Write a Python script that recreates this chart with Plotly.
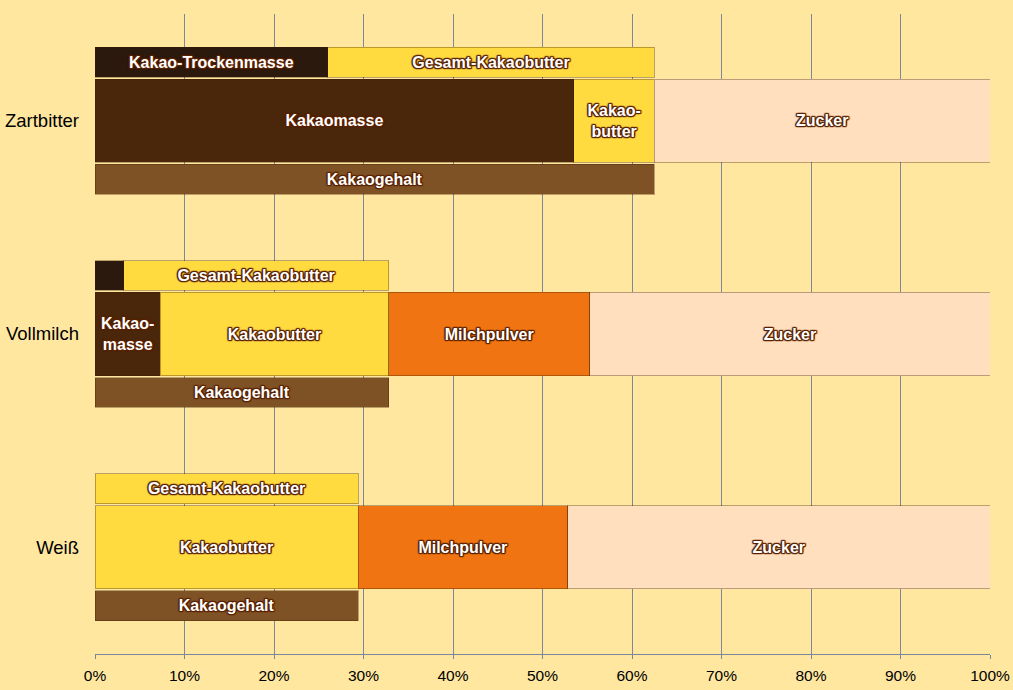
import plotly.graph_objects as go

# Data (percent of chocolate mass)
categories = ["Zartbitter", "Vollmilch", "Weiß"]
trockenmasse = [26.0, 3.2, 0]
gesamt_kakaobutter = [36.5, 29.6, 29.4]
kakaomasse = [53.5, 7.3, 0]
kakaobutter = [9.0, 25.5, 29.4]
milchpulver = [0, 22.5, 23.4]
zucker = [37.5, 44.7, 47.2]
kakaogehalt = [62.5, 32.8, 29.4]

trockenmasse_text = ["Kakao-Trockenmasse", "", ""]
kakaomasse_text = ["Kakaomasse", "Kakao-<br>masse", ""]
kakaobutter_text = ["Kakao-<br>butter", "Kakaobutter", "Kakaobutter"]

x_ticks = [0, 10, 20, 30, 40, 50, 60, 70, 80, 90, 100]
x_ticktext = ["0%", "10%", "20%", "30%", "40%", "50%", "60%", "70%", "80%", "90%", "100%"]

# row layout inside each category band
TOP, MID, BOT = -0.274, 0.0, 0.274
THIN, THICK = 0.14, 0.39

outline = "#5A2200"
shadow = ", ".join(f"{dx}px {dy}px 1px {outline}" for dx, dy in
                   [(-1, -1), (1, -1), (-1, 1), (1, 1), (0, 1), (1, 0), (-1, 0), (0, -1)])
label_font = dict(family="Liberation Sans, Arial, sans-serif", size=16,
                  color="white", weight="bold", shadow=shadow)

fig = go.Figure()


def add_row(name, values, row, width, color, texts=None):
    ys, xs, ts = [], [], []
    for i, v in enumerate(values):
        if v:
            ys.append(i + row)
            xs.append(v)
            ts.append(texts[i] if texts else name)
    fig.add_trace(go.Bar(
        name=name, orientation="h", x=xs, y=ys, width=width,
        marker=dict(color=color, line=dict(color="rgba(60,30,0,0.35)", width=1)),
        text=ts, textposition="inside", insidetextanchor="middle",
        textangle=0, textfont=label_font, constraintext="none",
        hoverinfo="name+x",
    ))


add_row("Kakao-Trockenmasse", trockenmasse, TOP, THIN, "#2A190C", trockenmasse_text)
add_row("Gesamt-Kakaobutter", gesamt_kakaobutter, TOP, THIN, "#FFDB40")
add_row("Kakaomasse", kakaomasse, MID, THICK, "#4A260A", kakaomasse_text)
add_row("Kakaobutter", kakaobutter, MID, THICK, "#FFDB40", kakaobutter_text)
add_row("Milchpulver", milchpulver, MID, THICK, "#F07412")
add_row("Zucker", zucker, MID, THICK, "#FFDFBD")
add_row("Kakaogehalt", kakaogehalt, BOT, THIN, "#7F5226")

fig.update_layout(
    width=1013, height=690,
    barmode="stack",
    showlegend=False,
    paper_bgcolor="#FFE7A0",
    plot_bgcolor="#FFE7A0",
    margin=dict(l=95, r=23, t=14, b=36),
    font=dict(family="Liberation Sans, Arial, sans-serif", color="black"),
    uniformtext=dict(minsize=16, mode="show"),
    xaxis=dict(
        range=[0, 100], tickvals=x_ticks, ticktext=x_ticktext,
        showgrid=True, gridcolor="#7E869C", gridwidth=1,
        showline=True, linecolor="#7E869C", linewidth=1,
        ticks="outside", ticklen=4, tickcolor="#7E869C", ticklabelstandoff=3,
        tickfont=dict(size=15.5), zeroline=False, automargin=False,
    ),
    yaxis=dict(
        range=[2.5, -0.5], tickvals=[0, 1, 2], ticktext=categories,
        showgrid=False, zeroline=False, showline=False, automargin=False,
        ticks="", ticklabelstandoff=15, tickfont=dict(size=18.5),
    ),
)

fig.write_html("out.html", config={"displayModeBar": False},
               post_script="document.body.style.margin='0';")
